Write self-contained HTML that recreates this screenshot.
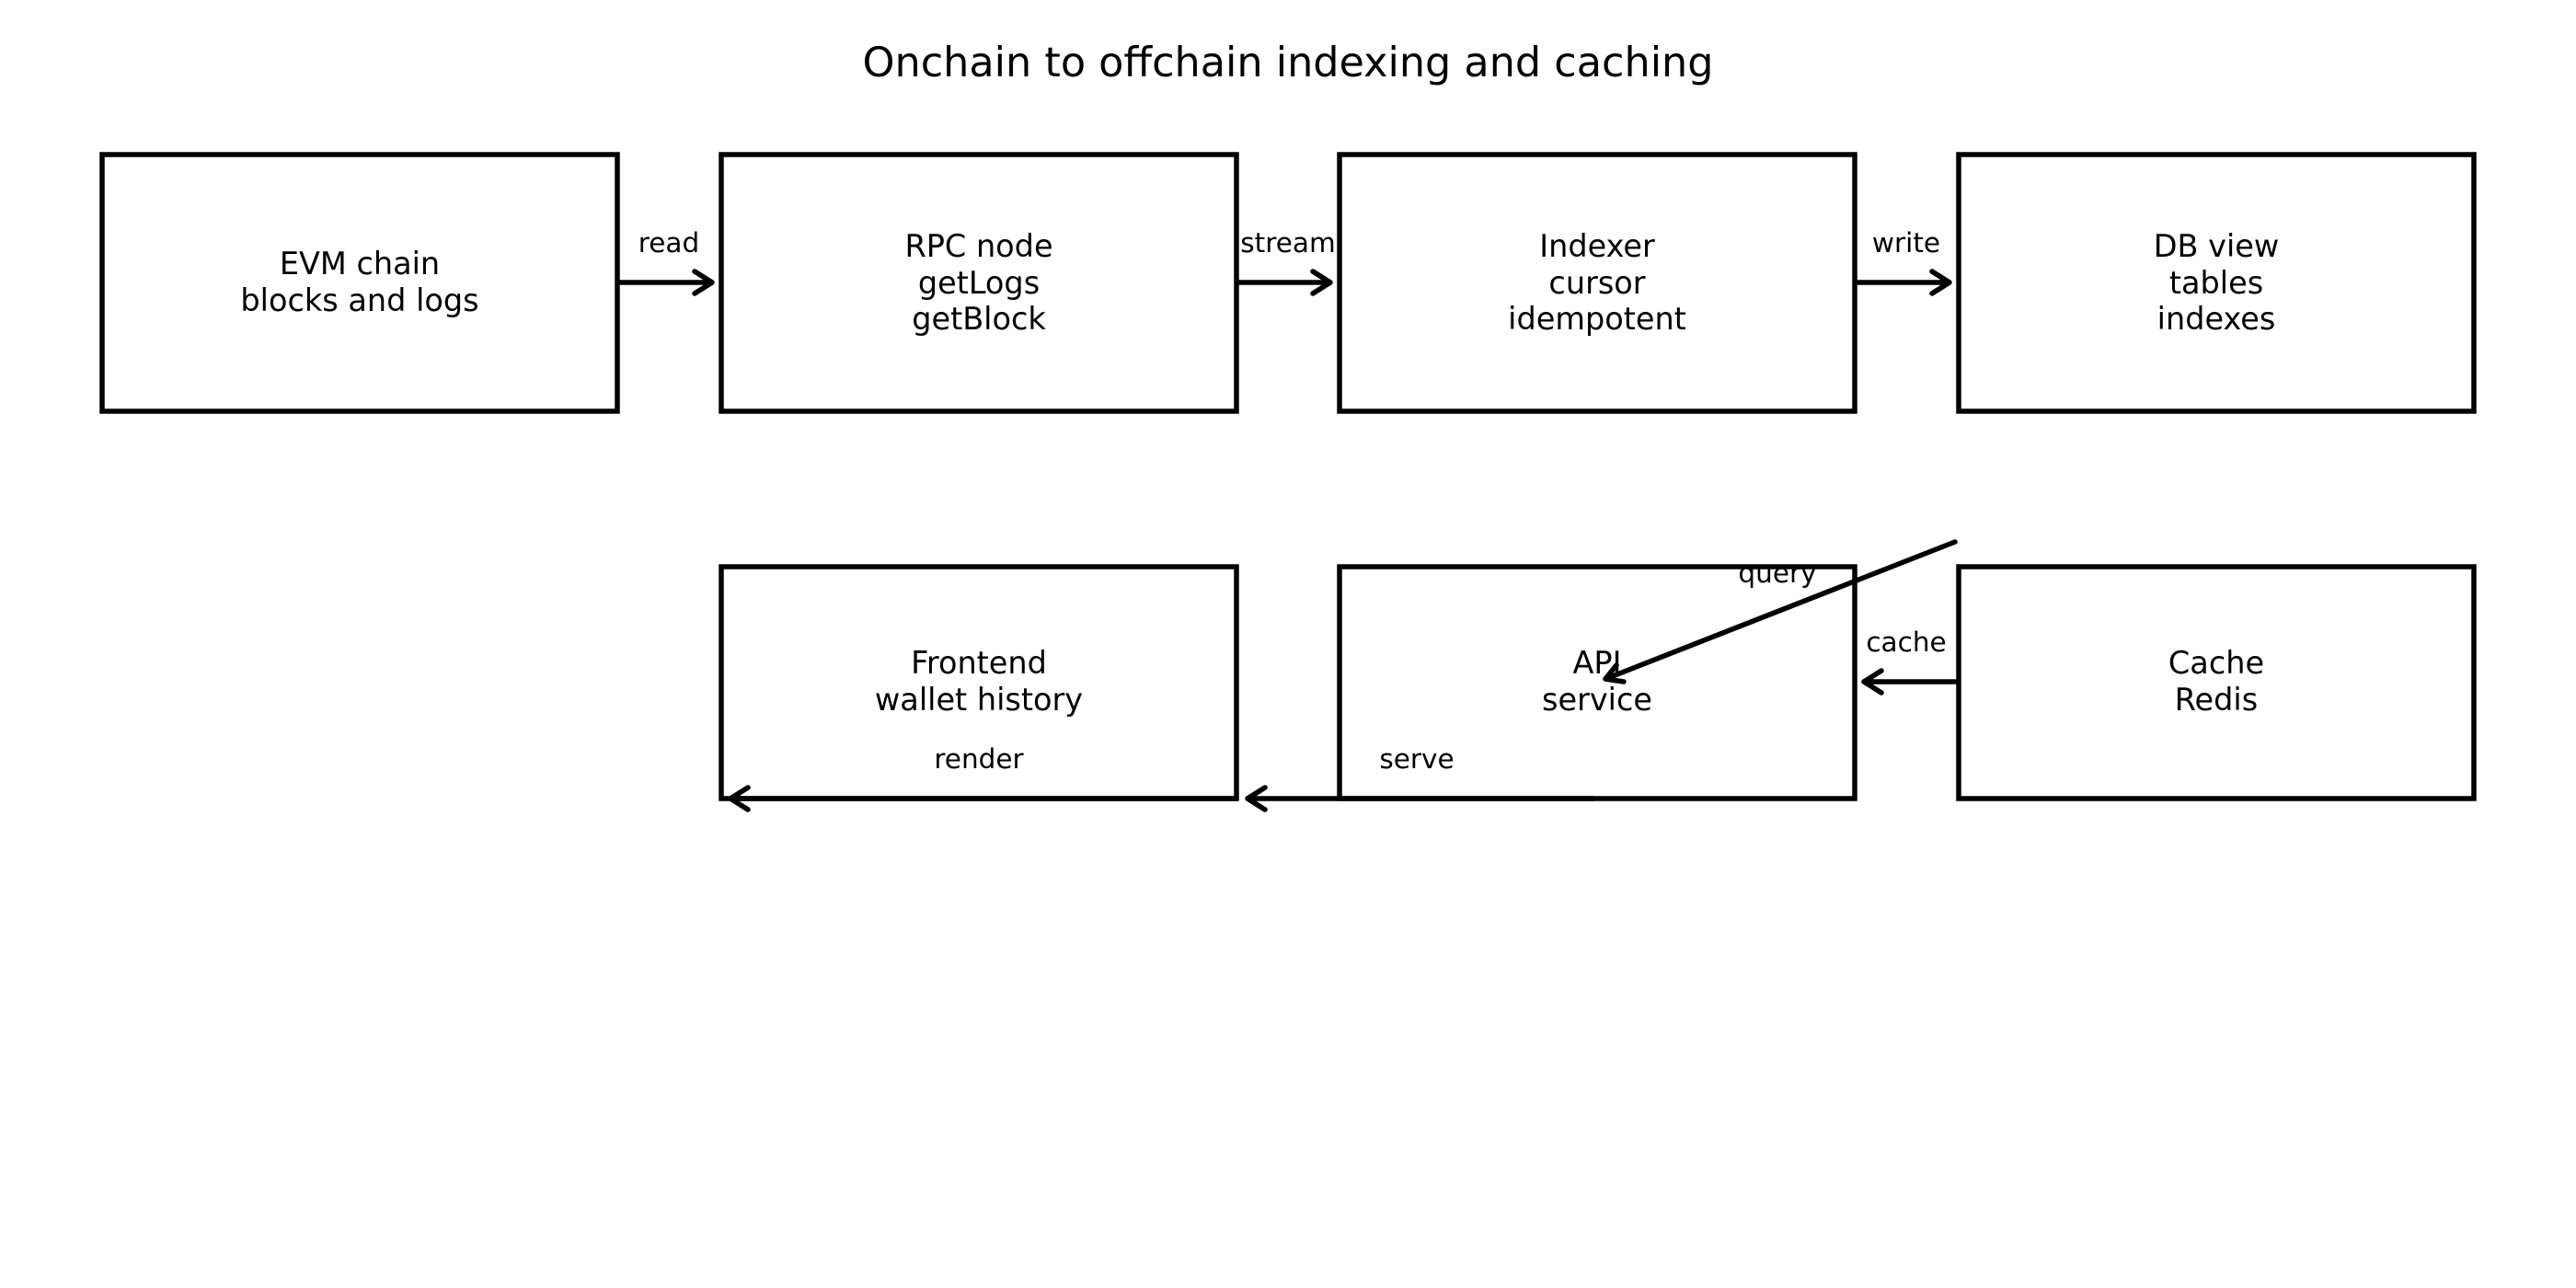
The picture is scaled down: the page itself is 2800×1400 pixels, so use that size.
<!DOCTYPE html>
<html><head><meta charset="utf-8"><style>
html,body{margin:0;padding:0;background:#fff;}
svg{display:block;}
text{font-family:"DejaVu Sans","Liberation Sans",sans-serif;fill:#000;}
</style></head><body>
<svg width="2800" height="1400" viewBox="0 0 2800 1400" xmlns="http://www.w3.org/2000/svg">
<text x="1400" y="83" font-size="44.5" text-anchor="middle">Onchain to offchain indexing and caching</text>
<g fill="none" stroke="#000" stroke-width="5.5">
<rect x="111" y="168" width="560" height="279"/>
<rect x="784" y="168" width="560" height="279"/>
<rect x="1456" y="168" width="560" height="279"/>
<rect x="2129" y="168" width="560" height="279"/>
<rect x="784" y="616" width="560" height="252"/>
<rect x="1456" y="616" width="560" height="252"/>
<rect x="2129" y="616" width="560" height="252"/>
</g>
<g font-size="33.5" text-anchor="middle">
<text x="391" y="298">EVM chain</text><text x="391" y="338">blocks and logs</text>
<text x="1064" y="279">RPC node</text><text x="1064" y="319">getLogs</text><text x="1064" y="358">getBlock</text>
<text x="1736" y="279">Indexer</text><text x="1736" y="319">cursor</text><text x="1736" y="358">idempotent</text>
<text x="2409" y="279">DB view</text><text x="2409" y="319">tables</text><text x="2409" y="358">indexes</text>
<text x="1064" y="732">Frontend</text><text x="1064" y="772">wallet history</text>
<text x="1736" y="732">API</text><text x="1736" y="772">service</text>
<text x="2409" y="732">Cache</text><text x="2409" y="772">Redis</text>
</g>
<g fill="none" stroke="#000" stroke-width="5.5" stroke-linecap="round" stroke-linejoin="round">
<path d="M674 307H774M755 295L774 307L755 319"/>
<path d="M1347 307H1446M1427 295L1446 307L1427 319"/>
<path d="M2019 307H2119M2100 295L2119 307L2100 319"/>
<path d="M2125 589L1745 738M1757 723L1745 738L1765 741"/>
<path d="M2125 741H2026M2045 729L2026 741L2045 753"/>
<path d="M1732 868H1356M1375 856L1356 868L1375 880"/>
<path d="M1344 868H794M813 856L794 868L813 880"/>
</g>
<g font-size="29.5" text-anchor="middle">
<text x="727" y="274">read</text>
<text x="1400" y="274">stream</text>
<text x="2072" y="274">write</text>
<text x="1932" y="633">query</text>
<text x="2072" y="708">cache</text>
<text x="1540" y="835">serve</text>
<text x="1064" y="835">render</text>
</g>
</svg>
</body></html>
